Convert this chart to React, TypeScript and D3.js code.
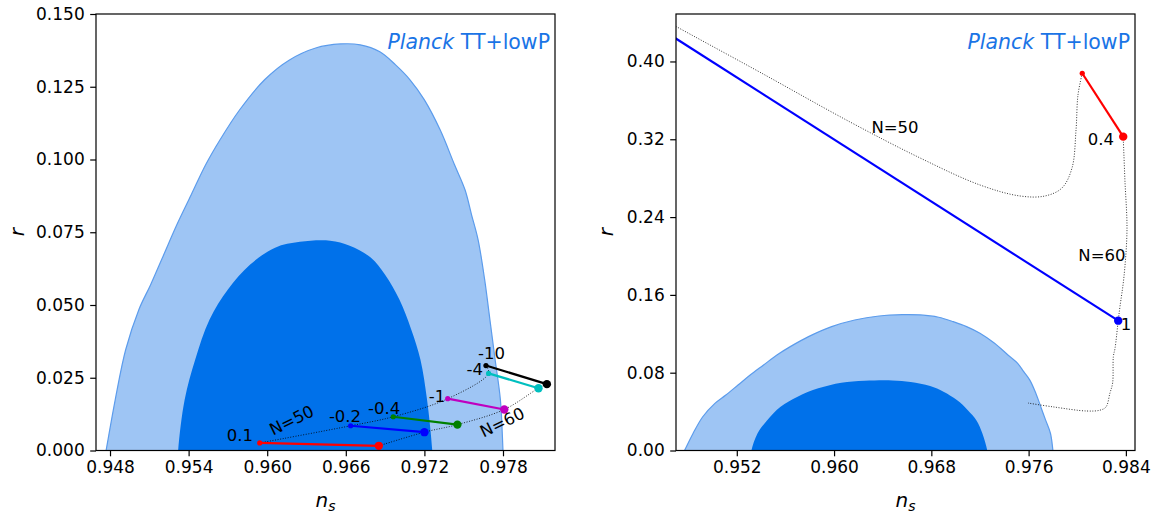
import { useRef, useEffect } from 'react';
import * as d3 from 'd3';

type Pt = [number, number];

// Planck TT+lowP contours (ns, r), same in both panels
const contour95: Pt[] = [
  [0.9473, -0.01], [0.9477, 0], [0.9484, 0.0175], [0.9492, 0.0347], [0.9502, 0.0484],
  [0.9511, 0.057], [0.9521, 0.0673], [0.9531, 0.0776], [0.9542, 0.0879], [0.9553, 0.0982],
  [0.9564, 0.1068], [0.9579, 0.1171], [0.9598, 0.1274], [0.9617, 0.1342], [0.9637, 0.1383],
  [0.9656, 0.1397], [0.9671, 0.1394], [0.9686, 0.137], [0.9698, 0.1325], [0.9709, 0.1274],
  [0.972, 0.1205], [0.9732, 0.1102], [0.9743, 0.0982], [0.9751, 0.0896], [0.9756, 0.081],
  [0.9761, 0.0724], [0.9766, 0.0587], [0.977, 0.045], [0.9774, 0.0312], [0.9778, 0.0175],
  [0.978, 0], [0.9781, -0.01],
];
const contour68: Pt[] = [
  [0.9531, -0.01], [0.9532, 0], [0.9537, 0.0175], [0.9545, 0.0312], [0.9556, 0.045],
  [0.957, 0.0553], [0.9587, 0.0639], [0.9606, 0.0697], [0.9625, 0.0717], [0.9648, 0.0721],
  [0.9663, 0.0704], [0.9679, 0.0663], [0.969, 0.0604], [0.9701, 0.0518], [0.971, 0.0415],
  [0.9717, 0.0312], [0.9722, 0.0175], [0.9726, 0], [0.9727, -0.01],
];

// left panel: one segment per parameter value, N=50 end -> N=60 end
const leftTags = ['0.1', '-0.2', '-0.4', '-1', '-4', '-10'];
const leftColors = ['#ff0000', '#0000ff', '#008000', '#bf00bf', '#00bfbf', '#000000'];
const leftN50: Pt[] = [
  [0.95943, 0.0026], [0.96637, 0.0085], [0.96962, 0.0116], [0.97378, 0.0178], [0.9769, 0.0265], [0.9767, 0.0292],
];
const leftN60: Pt[] = [
  [0.96852, 0.0016], [0.972, 0.0063], [0.97452, 0.0089], [0.9781, 0.0141], [0.98071, 0.0214], [0.98135, 0.0228],
];
const leftTagPos: Pt[] = [
  [0.95792, 0.0033], [0.96594, 0.0098], [0.96892, 0.0125], [0.97296, 0.0167], [0.97584, 0.0258], [0.97712, 0.0316],
];
const leftNLabels = ['N=50', 'N=60'];
const leftNPos: Pt[] = [[0.96187, 0.0103], [0.97795, 0.0096]];
const leftXTicks = [0.948, 0.954, 0.96, 0.966, 0.972, 0.978];
const leftYTicks = [0, 0.025, 0.05, 0.075, 0.1, 0.125, 0.15];

// right panel
const rightN50Curve: Pt[] = [
  [0.9359, 0.512], [0.947, 0.436], [0.95391, 0.3889], [0.96131, 0.3378], [0.96707, 0.3008],
  [0.972, 0.273], [0.97529, 0.2617], [0.97735, 0.2617], [0.97874, 0.2699], [0.97957, 0.2905],
  [0.9799, 0.3296], [0.98006, 0.3655], [0.98041, 0.3879],
];
const rightN60Curve: Pt[] = [
  [0.98378, 0.3227], [0.98392, 0.2781], [0.98409, 0.2267], [0.98384, 0.1784], [0.98351, 0.1476],
  [0.98337, 0.1335], [0.98311, 0.1053], [0.98297, 0.0966], [0.98291, 0.0694], [0.98269, 0.0591],
  [0.98236, 0.0447], [0.98188, 0.0415], [0.9808, 0.0406], [0.97804, 0.0448], [0.97595, 0.0488],
];
const rightTags = ['0.4', '1'];
const rightColors = ['#ff0000', '#0000ff'];
const rightN50: Pt[] = [[0.98041, 0.3879], [0.9359, 0.512]];
const rightN60: Pt[] = [[0.98378, 0.3227], [0.98337, 0.1335]];
const rightTagPos: Pt[] = [[0.98195, 0.3141], [0.98401, 0.1239]];
const rightNLabels = ['N=50', 'N=60'];
const rightNPos: Pt[] = [[0.96501, 0.3316], [0.98203, 0.2000]];
const rightXTicks = [0.952, 0.96, 0.968, 0.976, 0.984];
const rightYTicks = [0, 0.08, 0.16, 0.24, 0.32, 0.4];

const FONT = '"DejaVu Sans", sans-serif';

const panels = [
  {
    id: 'L', x0: 96, x1: 555, xDom: [0.94693, 0.98197], yDom: [0, 0.15],
    xTicks: leftXTicks, yTicks: leftYTicks, yFmt: '.3f', ylabX: 24,
    tags: leftTags, colors: leftColors, n50: leftN50, n60: leftN60, tagPos: leftTagPos,
    curves: [leftN50, leftN60], nLabels: leftNLabels, nPos: leftNPos, nRot: -26,
  },
  {
    id: 'R', x0: 676, x1: 1135, xDom: [0.947, 0.98475], yDom: [0, 0.4488],
    xTicks: rightXTicks, yTicks: rightYTicks, yFmt: '.2f', ylabX: 613,
    tags: rightTags, colors: rightColors, n50: rightN50, n60: rightN60, tagPos: rightTagPos,
    curves: [rightN50Curve, rightN60Curve], nLabels: rightNLabels, nPos: rightNPos, nRot: 0,
  },
];

export default function App() {
  const ref = useRef<SVGSVGElement>(null);

  useEffect(() => {
    if (!ref.current) return;
    const svg = d3.select(ref.current);
    svg.selectAll('*').remove();
    const top = 14, bottom = 450.5;

    panels.forEach(p => {
      const x = d3.scaleLinear().domain(p.xDom).range([p.x0, p.x1]);
      const y = d3.scaleLinear().domain(p.yDom).range([bottom, top]);
      const clipId = `clip-${p.id}`;
      svg.append('clipPath').attr('id', clipId)
        .append('rect').attr('x', p.x0).attr('y', top)
        .attr('width', p.x1 - p.x0).attr('height', bottom - top);

      const g = svg.append('g').attr('clip-path', `url(#${clipId})`);
      const smooth = d3.line<Pt>().x(d => x(d[0])).y(d => y(d[1])).curve(d3.curveCatmullRom);

      g.append('path').attr('d', smooth(contour95) + 'Z')
        .attr('fill', '#9ec5f4').attr('stroke', '#5c9cec').attr('stroke-width', 1.2);
      g.append('path').attr('d', smooth(contour68) + 'Z')
        .attr('fill', '#0071ea');

      // dotted N=50 / N=60 tracks
      p.curves.forEach(c => {
        g.append('path').attr('d', smooth(c)).attr('fill', 'none')
          .attr('stroke', '#000').attr('stroke-width', 0.8).attr('stroke-dasharray', '1,1.6');
      });

      p.tags.forEach((_, i) => {
        const a = p.n50[i], b = p.n60[i];
        g.append('line')
          .attr('x1', x(a[0])).attr('y1', y(a[1])).attr('x2', x(b[0])).attr('y2', y(b[1]))
          .attr('stroke', p.colors[i]).attr('stroke-width', 2.2);
        g.append('circle').attr('cx', x(a[0])).attr('cy', y(a[1])).attr('r', 2.6).attr('fill', p.colors[i]);
        g.append('circle').attr('cx', x(b[0])).attr('cy', y(b[1])).attr('r', 4.2).attr('fill', p.colors[i]);
      });

      const t = svg.append('g').attr('font-family', FONT).attr('fill', '#000');
      p.tags.forEach((s, i) => {
        t.append('text').attr('x', x(p.tagPos[i][0])).attr('y', y(p.tagPos[i][1]))
          .attr('text-anchor', 'middle').attr('font-size', 16.5).text(s);
      });
      p.nLabels.forEach((s, i) => {
        const px = x(p.nPos[i][0]), py = y(p.nPos[i][1]);
        t.append('text').attr('x', px).attr('y', py)
          .attr('text-anchor', 'middle').attr('dominant-baseline', 'central').attr('font-size', 16.5)
          .attr('transform', p.nRot ? `rotate(${p.nRot},${px},${py})` : null)
          .text(s);
      });

      // Planck label
      const pl = svg.append('text').attr('x', p.x1 - 5).attr('y', 49)
        .attr('text-anchor', 'end').attr('font-family', FONT).attr('font-size', 20.5)
        .attr('fill', '#1a74e6');
      pl.append('tspan').attr('font-style', 'italic').text('Planck');
      pl.append('tspan').text(' TT+lowP');

      // axes
      const ax = svg.append('g').attr('transform', `translate(0,${bottom})`)
        .call(d3.axisBottom(x).tickValues(p.xTicks).tickFormat(d3.format('.3f')).tickSize(5.8).tickPadding(5));
      const ay = svg.append('g').attr('transform', `translate(${p.x0},0)`)
        .call(d3.axisLeft(y).tickValues(p.yTicks).tickFormat(d3.format(p.yFmt)).tickSize(5.8).tickPadding(5.5));
      [ax, ay].forEach(a => {
        a.select('.domain').remove();
        a.selectAll('.tick line').attr('stroke', '#000').attr('stroke-width', 1.2);
        a.selectAll('text').attr('font-family', FONT).attr('font-size', 17).attr('fill', '#000');
      });

      svg.append('rect').attr('x', p.x0).attr('y', top)
        .attr('width', p.x1 - p.x0).attr('height', bottom - top)
        .attr('fill', 'none').attr('stroke', '#000').attr('stroke-width', 1.2);

      const xl = svg.append('text').attr('x', (p.x0 + p.x1) / 2).attr('y', 507)
        .attr('text-anchor', 'middle').attr('font-family', FONT).attr('font-size', 20);
      xl.append('tspan').attr('font-style', 'italic').text('n');
      xl.append('tspan').attr('font-style', 'italic').attr('font-size', 14).attr('dy', 4).text('s');

      svg.append('text')
        .attr('transform', `translate(${p.ylabX},${(top + bottom) / 2}) rotate(-90)`)
        .attr('text-anchor', 'middle').attr('font-family', FONT).attr('font-size', 20)
        .attr('font-style', 'italic').text('r');
    });
  }, []);

  return (
    <div style={{ position: 'absolute', left: 0, top: 0, background: '#fff' }}>
      <svg ref={ref} width={1155} height={517} />
    </div>
  );
}
